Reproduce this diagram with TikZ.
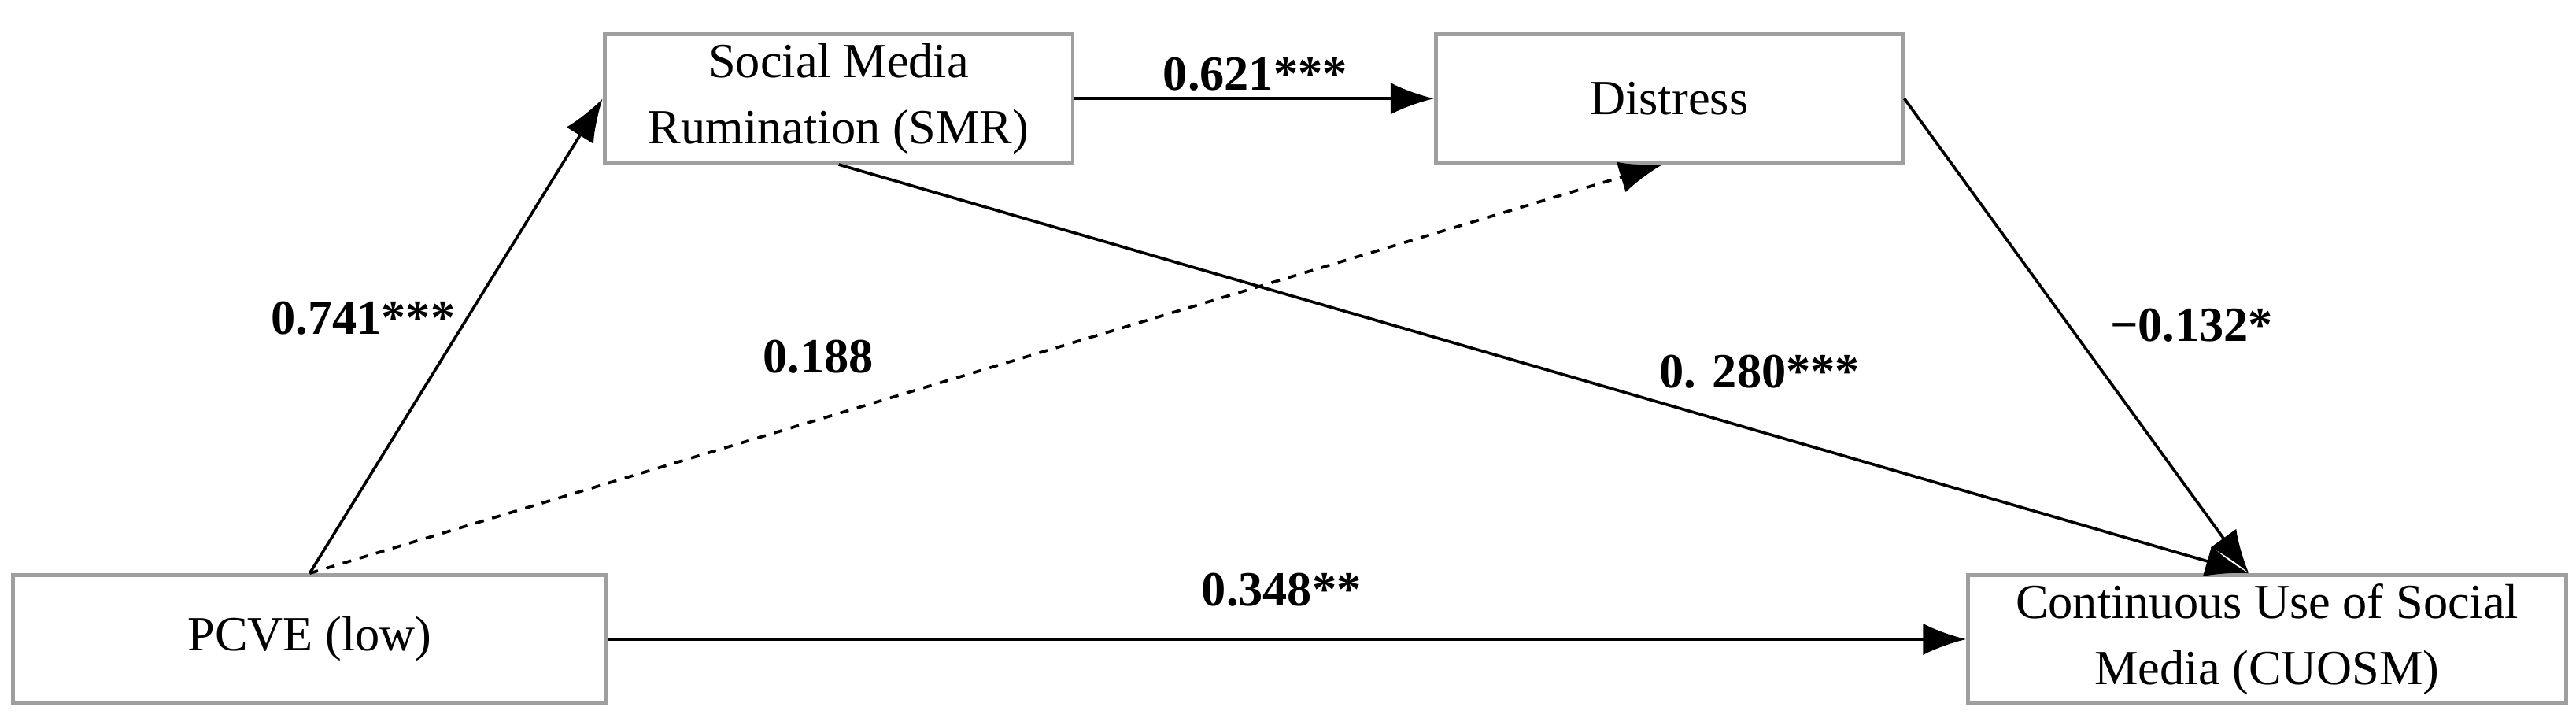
\documentclass[tikz,border=0pt]{standalone}
\usepackage{fontspec}
\setmainfont{Liberation Serif}
\usetikzlibrary{arrows.meta,calc}
\begin{document}
\begin{tikzpicture}[
  box/.style={draw=gray!75,line width=1.3pt,minimum height=1.56cm,align=center,font=\fontsize{17}{23}\selectfont,inner sep=2pt},
  arr/.style={line width=1pt,-{Latex[length=15pt,width=11pt]}},
  lab/.style={font=\fontsize{17}{20}\selectfont\bfseries}]
\useasboundingbox (0,0) rectangle (31.36,8.73);
\node[box,minimum width=5.7cm] (smr) at (10.21,7.53) {Social Media\\Rumination (SMR)};
\node[box,minimum width=5.68cm] (dis) at (20.32,7.53) {Distress};
\node[box,minimum width=7.22cm] (pcve) at (3.77,0.95) {PCVE (low)};
\node[box,minimum width=7.28cm] (cu) at (27.6,0.95) {Continuous Use of Social\\Media (CUOSM)};
\coordinate (cutop) at ($(cu.north west)+(3.44,0)$);
\draw[arr] (pcve.north) -- (smr.west);
\draw[arr,dashed] (pcve.north) -- ($(dis.south)+(-0.08,0)$);
\draw[arr] (smr.east) -- (dis.west);
\draw[arr] (smr.south) -- (cutop);
\draw[arr] (dis.east) -- (cutop);
\draw[arr] (pcve.east) -- (cu.west);
\node[lab] (l1) at (4.42,4.86) {0.741***};
\node[lab] (l2) at (9.96,4.39) {0.188};
\node[lab] (l3) at (21.42,4.21) {0. 280***};
\node[lab] (l4) at (26.68,4.77) {−0.132*};
\node[lab] (l5) at (15.28,7.83) {0.621***};
\node[lab] (l6) at (15.6,1.55) {0.348**};
\end{tikzpicture}
\end{document}
